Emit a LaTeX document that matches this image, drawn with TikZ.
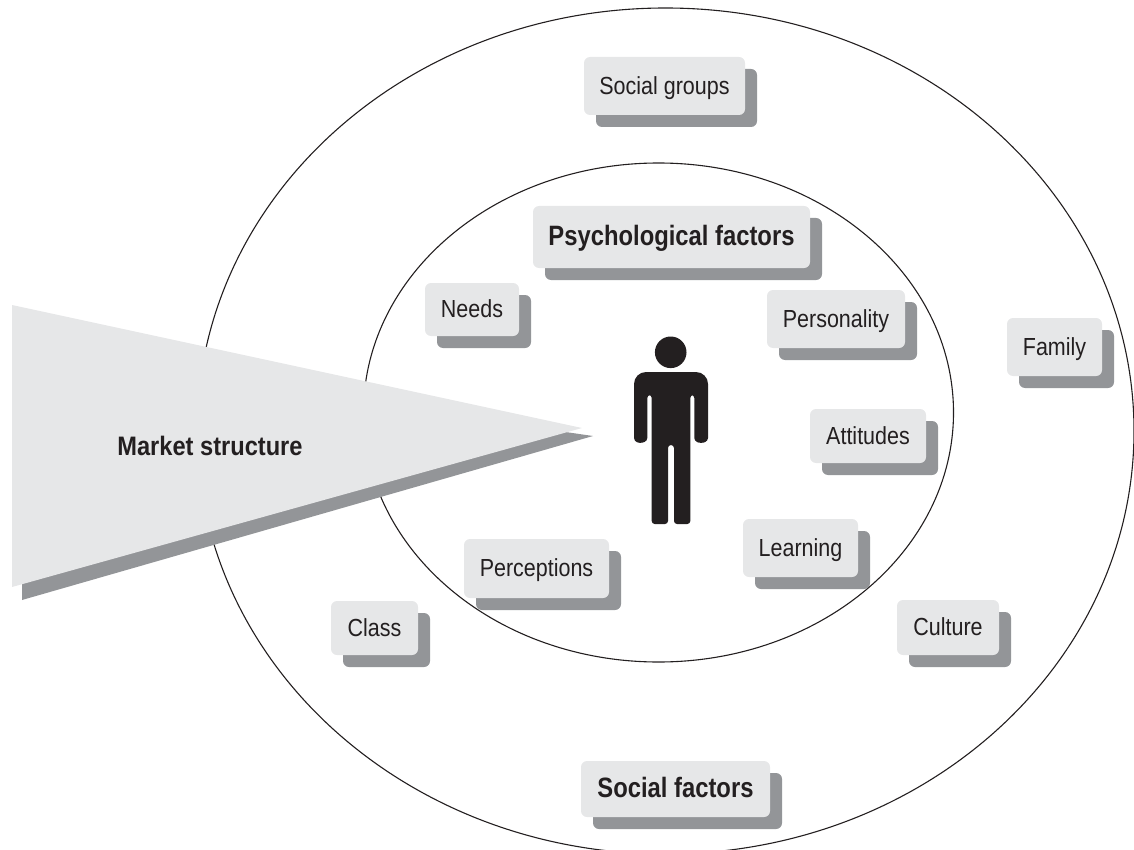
\documentclass[tikz,border=0pt]{standalone}
\usepackage{fontspec}
\setmainfont{Liberation Sans}
\newfontfamily\regfam{Liberation Sans}[FakeStretch=0.87]
\newfontfamily\boldfam{Liberation Sans}[FakeStretch=0.85]
\newfontfamily\markfam{Liberation Sans}[FakeStretch=0.885]
\definecolor{boxfill}{HTML}{E6E7E8}
\definecolor{shadowfill}{HTML}{939598}
\definecolor{inkc}{HTML}{231F20}
\tikzset{
  ring/.style={draw=inkc,line width=1.1pt},
  shade box/.style={fill=shadowfill,rounded corners=6pt,draw=none},
  front box/.style={fill=boxfill,rounded corners=6pt,draw=none},
  lbl/.style={text=inkc,font=\regfam\fontsize{24.7}{28}\selectfont,inner sep=0pt,anchor=base},
  lblb/.style={text=inkc,font=\boldfam\fontsize{28}{32}\selectfont\bfseries,inner sep=0pt,anchor=base},
  lblm/.style={text=inkc,font=\markfam\fontsize{26.7}{30}\selectfont\bfseries,inner sep=0pt,anchor=base},
}
% #1 name, #2 x0, #3 y0, #4 x1, #5 y1 (pixel coordinates, y down), #6 style, #7 text
\newcommand{\labbox}[7]{%
  \fill[shade box] (#2+12,-#3-12) rectangle (#4+12,-#5-12);
  \fill[front box] (#2,-#3) rectangle (#4,-#5);
  \node[#6] (#1) at ({(#2+#4)/2},{-(#3+#5)/2-8.3}) {#7};
}
\begin{document}
\begin{tikzpicture}[x=1pt,y=1pt]
\useasboundingbox (0,-850) rectangle (1134,0);
\begin{scope}
\clip (0,-850) rectangle (1134,0);
\draw[ring] (665.5,-431) ellipse [x radius=468.5,y radius=423];
\draw[ring] (658.5,-412.5) ellipse [x radius=295,y radius=249.5];
\end{scope}
\fill[shadowfill] (22,-353) -- (593,-436) -- (22,-600) -- cycle;
\fill[boxfill] (12,-305) -- (582,-428) -- (12,-587) -- cycle;
\node[lblm] (market) at (210,-455) {Market structure};
\labbox{groups}{584}{57}{745}{115}{lbl}{Social groups}
\labbox{psych}{533}{206}{810}{268}{lblb}{Psychological factors}
\labbox{needs}{425}{283}{519}{336}{lbl}{Needs}
\labbox{person}{767}{290}{905}{348}{lbl}{Personality}
\labbox{family}{1007}{318}{1102}{376}{lbl}{Family}
\labbox{attitudes}{810}{409}{926}{463}{lbl}{Attitudes}
\labbox{learning}{743}{519}{858}{577}{lbl}{Learning}
\labbox{perceptions}{464}{539}{609}{598}{lbl}{Perceptions}
\labbox{class}{331}{601}{418}{655}{lbl}{Class}
\labbox{culture}{897}{600}{999}{655}{lbl}{Culture}
\labbox{social}{581}{761}{770}{817}{lblb}{Social factors}
% figure
\fill[inkc] (670.7,-352.3) circle [radius=15.8];
\fill[inkc,rounded corners=3pt]
  (651.7,-524) -- (651.7,-395) -- (647.3,-395) -- (647.3,-441) -- (640,-443.5) -- (634,-441)
  [rounded corners=12pt] -- (634,-372) -- (708,-372)
  [rounded corners=3pt] -- (708,-441) -- (701,-443.5) -- (694.3,-441) -- (694.3,-395) -- (690.3,-395)
  -- (690.3,-524) -- (674,-524) -- (674,-445) -- (668,-445) -- (668,-524) -- cycle;
\end{tikzpicture}
\end{document}
